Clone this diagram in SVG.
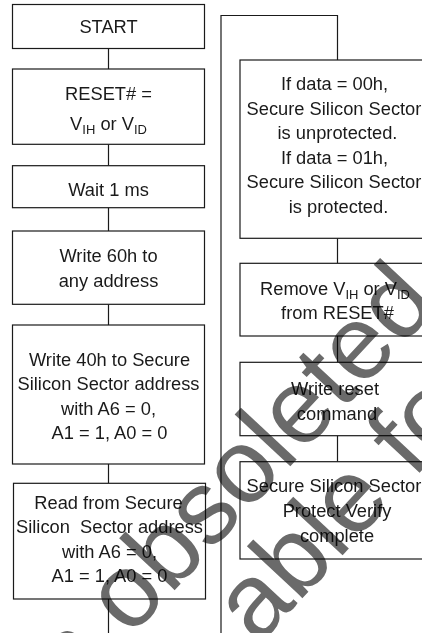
<svg xmlns="http://www.w3.org/2000/svg" width="422" height="633" viewBox="0 0 422 633">
<style>
.box{fill:#fff;stroke:#1a1a1a;stroke-width:1.2}
.ln{fill:none;stroke:#1a1a1a;stroke-width:1.2}
.t{font-family:"Liberation Sans",Arial,sans-serif;font-size:18.3px;fill:#1a1a1a;text-anchor:middle}
.sub{font-size:13px}
.wm{font-family:"Liberation Sans",Arial,sans-serif;font-size:105px;fill:#6a6a6a;mix-blend-mode:multiply}
</style>
<rect width="422" height="633" fill="#fff"/>
<g id="connectors">
<path class="ln" d="M108.5 48.5V69M108.5 144.3V165.7M108.5 207.7V231M108.5 304.3V325M108.5 464V483.3M108.5 599V633"/>
<path class="ln" d="M221 633V15.5H337.5V60M337.5 238.3V263.3M337.5 336V362.3M337.5 435.7V461.7"/>
</g>
<g id="start"><rect class="box" x="12.5" y="4.5" width="192" height="44"/><text class="t" x="108.5" y="32.5">START</text></g>
<g id="reset"><rect class="box" x="12.5" y="69" width="192" height="75.3"/>
<text class="t" x="108.5" y="100">RESET# =</text>
<text class="t" x="108.5" y="129.5">V<tspan class="sub" dy="4">IH</tspan><tspan dy="-4"> or V</tspan><tspan class="sub" dy="4">ID</tspan></text></g>
<g id="wait"><rect class="box" x="12.5" y="165.7" width="192" height="42"/><text class="t" x="108.5" y="195.5">Wait 1 ms</text></g>
<g id="write60"><rect class="box" x="12.5" y="231" width="192" height="73.3"/>
<text class="t" x="108.5" y="261.7">Write 60h to</text><text class="t" x="108.5" y="286.5">any address</text></g>
<g id="write40"><rect class="box" x="12.5" y="325" width="192" height="139"/>
<text class="t" x="109.5" y="365.5">Write 40h to Secure</text>
<text class="t" x="108.5" y="390">Silicon Sector address</text>
<text class="t" x="108.5" y="414.5">with A6 = 0,</text>
<text class="t" x="109.5" y="439">A1 = 1, A0 = 0</text></g>
<g id="read"><rect class="box" x="13.5" y="483.3" width="192" height="115.7"/>
<text class="t" x="108.5" y="508.5">Read from Secure</text>
<text class="t" x="109.5" y="533" xml:space="preserve">Silicon  Sector address</text>
<text class="t" x="109.5" y="557.5">with A6 = 0,</text>
<text class="t" x="109.5" y="582">A1 = 1, A0 = 0</text></g>
<g id="ifdata"><rect class="box" x="240" y="60" width="195" height="178.3"/>
<text class="t" x="334.5" y="90">If data = 00h,</text>
<text class="t" x="334" y="114.6">Secure Silicon Sector</text>
<text class="t" x="337.5" y="139.2">is unprotected.</text>
<text class="t" x="334.5" y="163.8">If data = 01h,</text>
<text class="t" x="334" y="188.4">Secure Silicon Sector</text>
<text class="t" x="338.5" y="213">is protected.</text></g>
<g id="remove"><rect class="box" x="240" y="263.3" width="195" height="72.7"/>
<text class="t" x="335" y="295">Remove V<tspan class="sub" dy="4">IH</tspan><tspan dy="-4"> or V</tspan><tspan class="sub" dy="4">ID</tspan></text>
<text class="t" x="337.5" y="319">from RESET#</text></g>
<g id="writereset"><rect class="box" x="240" y="362.3" width="195" height="73.4"/>
<text class="t" x="335" y="395">Write reset</text>
<text class="t" x="337" y="420">command</text></g>
<g id="verify"><rect class="box" x="240" y="461.7" width="195" height="97.3"/>
<text class="t" x="334" y="491.7">Secure Silicon Sector</text>
<text class="t" x="337" y="516.7">Protect Verify</text>
<text class="t" x="337" y="541.7">complete</text></g>
<g id="watermark">
<text class="wm" transform="translate(58.5,714.7) rotate(-47)">is obsoleted</text>
<text class="wm" transform="translate(258,646) rotate(-47)">able for</text>
</g>
</svg>
